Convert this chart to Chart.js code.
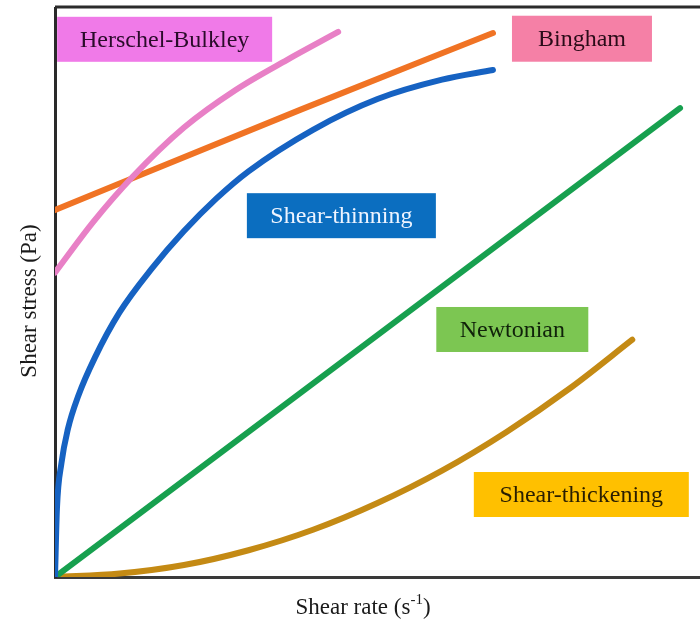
<!DOCTYPE html>
<html>
<head>
<meta charset="utf-8">
<script src="https://cdn.jsdelivr.net/npm/chart.js@4.4.1/dist/chart.umd.min.js"></script>
<style>
  html, body { margin: 0; padding: 0; background: #fff; }
  #chart { display: block; }
</style>
</head>
<body>
<canvas id="chart" width="700" height="622"></canvas>
<script>
// --- Data (shear rate 0-100, shear stress 0-100, arbitrary units) ---
const hbRate = [0, 6, 12, 20, 28, 36, 43.9];
const hbStress = [53.5, 62.5, 70.3, 79.0, 85.6, 90.9, 95.8];

const binghamRate = [0, 38.0, 67.9];
const binghamStress = [64.5, 82.1, 95.6];

const thinRate = [0, 0.3, 1, 2, 3.6, 6.2, 10, 15, 20, 25, 30, 40, 50, 60, 67.9];
const thinStress = [0, 12, 20, 26, 31.8, 38.6, 46.5, 54.2, 60.8, 66.5, 71.3, 78.6, 84.0, 87.4, 89.1];

const newtonRate = [0, 96.9];
const newtonStress = [0, 82.4];

const thickRate = [0, 10, 20, 30, 40, 50, 60, 70, 80, 89.5];
const thickStress = [0, 0.6, 2.1, 4.7, 8.3, 13.0, 18.7, 25.5, 33.3, 41.7];

const seriesNames = ['Herschel-Bulkley', 'Bingham', 'Shear-thinning', 'Newtonian', 'Shear-thickening'];

// --- Helpers ---
function toPoints(xs, ys) {
    return xs.map((x, i) => ({ x: x, y: ys[i] }));
}

// label boxes: anchor in data coords, size in px
const labelBoxes = [
    { text: 'Herschel-Bulkley', x: 17.0, y: 94.5, w: 215, h: 45, bg: '#f07ae8', fg: '#2a0b2a' },
    { text: 'Bingham', x: 81.7, y: 94.6, w: 140, h: 46, bg: '#f580a6', fg: '#2a0b18' },
    { text: 'Shear-thinning', x: 44.4, y: 63.5, w: 189, h: 45, bg: '#0b6ec0', fg: '#eef4ff' },
    { text: 'Newtonian', x: 70.9, y: 43.5, w: 152, h: 45, bg: '#7cc652', fg: '#10220a' },
    { text: 'Shear-thickening', x: 81.6, y: 14.5, w: 215, h: 45, bg: '#ffc000', fg: '#2a1e00' }
];

const serifFont = '"Liberation Serif", "DejaVu Serif", serif';

const decorPlugin = {
    id: 'decor',
    afterDatasetsDraw(chart) {
        const { ctx, chartArea, scales } = chart;
        ctx.save();

        // top frame line
        ctx.strokeStyle = '#2b2b2b';
        ctx.lineWidth = 3;
        ctx.beginPath();
        ctx.moveTo(chartArea.left, chartArea.top - 1);
        ctx.lineTo(chart.width, chartArea.top - 1);
        ctx.stroke();

        // label boxes
        labelBoxes.forEach(b => {
            const cx = scales.x.getPixelForValue(b.x);
            const cy = scales.y.getPixelForValue(b.y);
            ctx.fillStyle = b.bg;
            ctx.fillRect(cx - b.w / 2, cy - b.h / 2, b.w, b.h);
            ctx.fillStyle = b.fg;
            ctx.font = '24px ' + serifFont;
            ctx.textAlign = 'center';
            ctx.textBaseline = 'middle';
            ctx.fillText(b.text, cx, cy + 1);
        });

        // x axis title with superscript
        ctx.fillStyle = '#1a1a1a';
        ctx.textBaseline = 'alphabetic';
        ctx.textAlign = 'left';
        const big = '23px ' + serifFont;
        const small = '15px ' + serifFont;
        const main = 'Shear rate (s';
        const sup = '-1';
        const tail = ')';
        ctx.font = big;
        const wMain = ctx.measureText(main).width;
        const wTail = ctx.measureText(tail).width;
        ctx.font = small;
        const wSup = ctx.measureText(sup).width;
        const total = wMain + wSup + wTail;
        const startX = 363 - total / 2;
        const baseY = 614;
        ctx.font = big;
        ctx.fillText(main, startX, baseY);
        ctx.fillText(tail, startX + wMain + wSup, baseY);
        ctx.font = small;
        ctx.fillText(sup, startX + wMain, baseY - 10);

        // y axis title
        ctx.translate(36, 301);
        ctx.rotate(-Math.PI / 2);
        ctx.textAlign = 'center';
        ctx.font = big;
        ctx.fillText('Shear stress (Pa)', 0, 0);

        ctx.restore();
    }
};

const ctx = document.getElementById('chart');
new Chart(ctx, {
    type: 'line',
    data: {
        datasets: [
            { label: seriesNames[0], data: toPoints(hbRate, hbStress), borderColor: '#e880c6' },
            { label: seriesNames[1], data: toPoints(binghamRate, binghamStress), borderColor: '#f07324' },
            { label: seriesNames[2], data: toPoints(thinRate, thinStress), borderColor: '#1662c2' },
            { label: seriesNames[3], data: toPoints(newtonRate, newtonStress), borderColor: '#17a04f' },
            { label: seriesNames[4], data: toPoints(thickRate, thickStress), borderColor: '#c48a14' }
        ]
    },
    options: {
        responsive: false,
        animation: false,
        layout: { padding: { left: 55, top: 8, right: 0, bottom: 45 } },
        elements: {
            point: { radius: 0 },
            line: { borderWidth: 6, cubicInterpolationMode: 'monotone', borderCapStyle: 'round' }
        },
        plugins: {
            legend: { display: false },
            tooltip: { enabled: false }
        },
        scales: {
            x: {
                type: 'linear', min: 0, max: 100,
                ticks: { display: false },
                grid: { display: false, drawTicks: false },
                border: { display: true, color: '#3a3a3a', width: 3 }
            },
            y: {
                type: 'linear', min: 0, max: 100,
                ticks: { display: false },
                grid: { display: false, drawTicks: false },
                border: { display: true, color: '#2a2a2a', width: 3 }
            }
        }
    },
    plugins: [decorPlugin]
});
</script>
</body>
</html>
